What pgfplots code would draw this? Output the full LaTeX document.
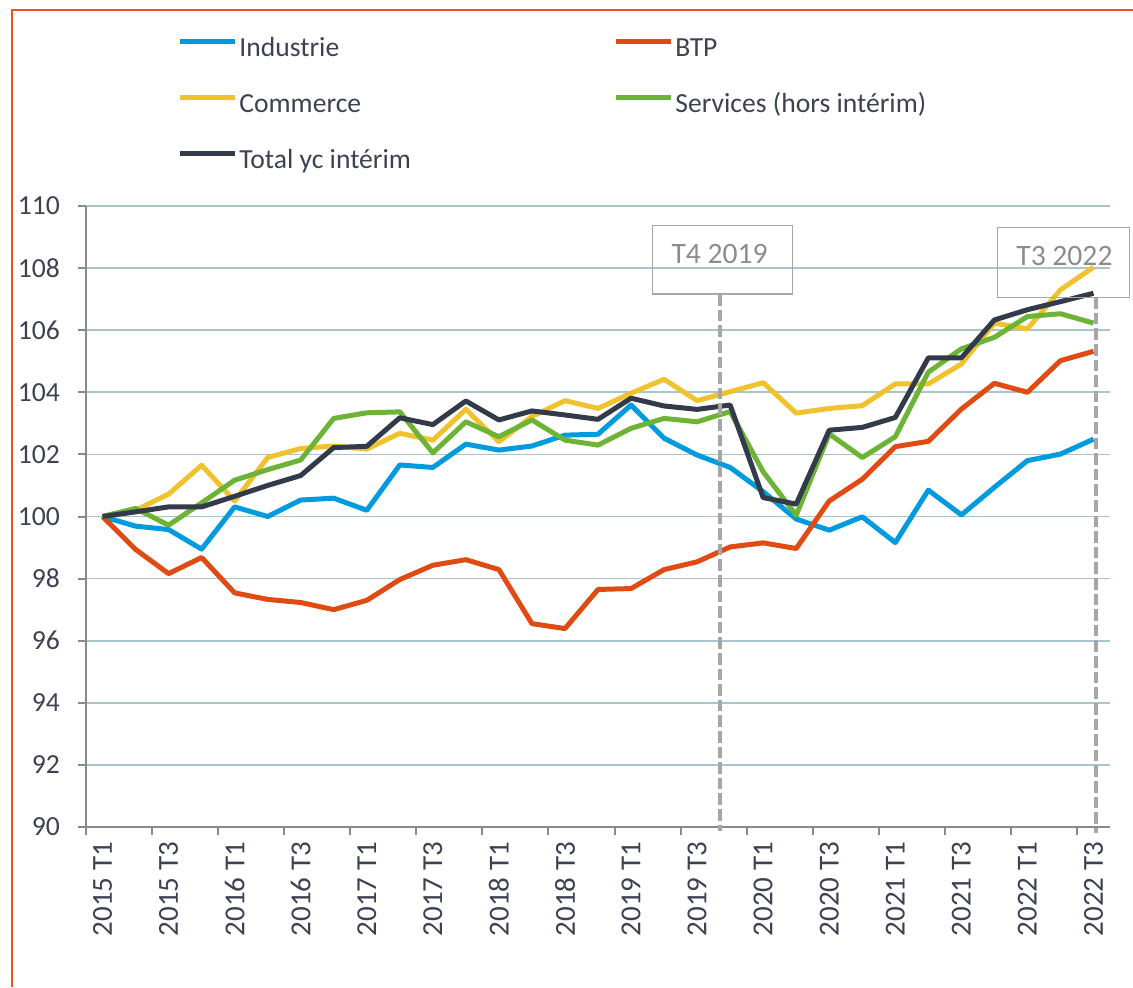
\documentclass[border=0pt]{standalone}
\usepackage{fontspec}
\setmainfont{Carlito}
\usepackage{pgfplots}
\pgfplotsset{compat=1.18}

\definecolor{cInd}{RGB}{0,155,222}
\definecolor{cBtp}{RGB}{224,75,20}
\definecolor{cCom}{RGB}{240,194,46}
\definecolor{cSer}{RGB}{109,179,53}
\definecolor{cTot}{RGB}{51,59,74}
\definecolor{cGrid}{RGB}{168,196,204}
\definecolor{cAxis}{RGB}{137,137,137}
\definecolor{cText}{RGB}{60,66,82}
\definecolor{cBox}{RGB}{166,166,166}
\definecolor{cAnn}{RGB}{140,140,140}
\definecolor{cFrame}{RGB}{232,84,30}

\begin{document}
\begin{tikzpicture}
\useasboundingbox (0,0) rectangle (566.5pt,493.5pt);
\begin{axis}[
  at={(43pt,80pt)}, anchor=south west,
  scale only axis, width=512pt, height=310.5pt,
  xmin=-0.5, xmax=30.5, ymin=90, ymax=110,
  clip=false,
  axis lines*=left,
  axis line style={cAxis, line width=1pt},
  tick align=outside, major tick length=4pt,
  ytick={90,92,...,110},
  ytick style={cAxis, line width=1pt},
  ymajorgrids, major grid style={cGrid, line width=0.85pt},
  yticklabel style={font=\fontsize{13.8}{14}\selectfont, text=cText, xshift=-5.5pt},
  /pgf/number format/assume math mode=true,
  xtick={0,2,...,30},
  xticklabels={2015 T1,2015 T3,2016 T1,2016 T3,2017 T1,2017 T3,2018 T1,2018 T3,
    2019 T1,2019 T3,2020 T1,2020 T3,2021 T1,2021 T3,2022 T1,2022 T3},
  xtick style={draw=none},
  xticklabel style={rotate=90, anchor=east, font=\fontsize{14.5}{15}\selectfont, text=cText},
  extra x ticks={-0.5,1.5,...,29.5},
  extra x tick labels={},
  extra x tick style={grid=none, xtick style={draw=cAxis, line width=1pt}},
  legend columns=2,
  legend cell align=left,
  legend style={at={(0.0885,1.2723)}, anchor=north west, draw=none, fill=none,
    inner sep=0pt, font=\fontsize{13.8}{15}\selectfont, text=cText,
    nodes={inner sep=0pt, text height=9.5pt, text depth=3pt},
    /tikz/every even column/.append style={column sep=101pt},
    /tikz/every odd column/.append style={column sep=1.2pt},
    row sep=15.5pt},
  legend image code/.code={\draw[#1, line width=2.5pt] (0pt,4.4pt) -- (27.5pt,4.4pt);},
  every axis plot/.append style={line width=2.5pt, line join=round},
]
\addplot[cInd] coordinates {
 (0,100)(1,99.69)(2,99.58)(3,98.95)(4,100.31)(5,100.0)(6,100.53)(7,100.59)(8,100.2)(9,101.66)
 (10,101.58)(11,102.33)(12,102.14)(13,102.27)(14,102.62)(15,102.65)(16,103.59)(17,102.52)(18,101.98)(19,101.58)
 (20,100.8)(21,99.92)(22,99.56)(23,99.99)(24,99.16)(25,100.85)(26,100.05)(27,100.94)(28,101.8)(29,102.01)(30,102.49)
};
\addlegendentry{Industrie}
\addplot[cBtp] coordinates {
 (0,100)(1,98.94)(2,98.16)(3,98.68)(4,97.54)(5,97.33)(6,97.23)(7,97.0)(8,97.3)(9,97.97)
 (10,98.43)(11,98.61)(12,98.29)(13,96.55)(14,96.39)(15,97.65)(16,97.68)(17,98.29)(18,98.54)(19,99.02)
 (20,99.15)(21,98.97)(22,100.5)(23,101.2)(24,102.25)(25,102.42)(26,103.46)(27,104.29)(28,104.0)(29,105.02)(30,105.32)
};
\addlegendentry{BTP}
\addplot[cCom] coordinates {
 (0,100)(1,100.2)(2,100.72)(3,101.65)(4,100.5)(5,101.9)(6,102.19)(7,102.27)(8,102.17)(9,102.68)
 (10,102.46)(11,103.45)(12,102.41)(13,103.22)(14,103.73)(15,103.48)(16,103.97)(17,104.42)(18,103.73)(19,104.02)
 (20,104.31)(21,103.33)(22,103.48)(23,103.57)(24,104.27)(25,104.27)(26,104.91)(27,106.23)(28,106.04)(29,107.30)(30,108.03)
};
\addlegendentry{Commerce}
\addplot[cSer] coordinates {
 (0,100)(1,100.26)(2,99.72)(3,100.44)(4,101.17)(5,101.51)(6,101.82)(7,103.16)(8,103.34)(9,103.37)
 (10,102.05)(11,103.05)(12,102.57)(13,103.11)(14,102.46)(15,102.3)(16,102.84)(17,103.16)(18,103.05)(19,103.38)
 (20,101.44)(21,100.04)(22,102.66)(23,101.9)(24,102.57)(25,104.65)(26,105.4)(27,105.77)(28,106.44)(29,106.53)(30,106.23)
};
\addlegendentry{Services (hors intérim)}
\addplot[cTot] coordinates {
 (0,100)(1,100.15)(2,100.31)(3,100.31)(4,100.65)(5,101.0)(6,101.32)(7,102.22)(8,102.26)(9,103.18)
 (10,102.96)(11,103.72)(12,103.11)(13,103.40)(14,103.27)(15,103.13)(16,103.81)(17,103.56)(18,103.45)(19,103.59)
 (20,100.61)(21,100.40)(22,102.78)(23,102.87)(24,103.19)(25,105.11)(26,105.11)(27,106.33)(28,106.66)(29,106.92)(30,107.19)
};
\addlegendentry{Total yc intérim}

% reperes T4 2019 et T3 2022
\draw[cBox, line width=2pt, dash pattern=on 5.8pt off 2pt] (axis cs:18.68,107.16) -- (axis cs:18.68,89.87);
\draw[cBox, line width=2pt, dash pattern=on 5.8pt off 2pt] (axis cs:30.09,107.06) -- (axis cs:30.09,89.81);
\draw[cBox, line width=0.7pt] (axis cs:16.65,107.16) rectangle (axis cs:20.89,109.38);
\draw[cBox, line width=0.7pt] (axis cs:27.10,107.06) rectangle (axis cs:31.09,109.31);
\node[text=cAnn, font=\fontsize{14.8}{15}\selectfont, inner sep=0pt] at (axis cs:18.68,108.44) {T4 2019};
\node[text=cAnn, font=\fontsize{14.8}{15}\selectfont, inner sep=0pt] at (axis cs:29.12,108.38) {T3 2022};
\end{axis}
\draw[cFrame, line width=1pt] (6pt,0pt) -- (6pt,488.5pt) -- (566.5pt,488.5pt);
\end{tikzpicture}
\end{document}
